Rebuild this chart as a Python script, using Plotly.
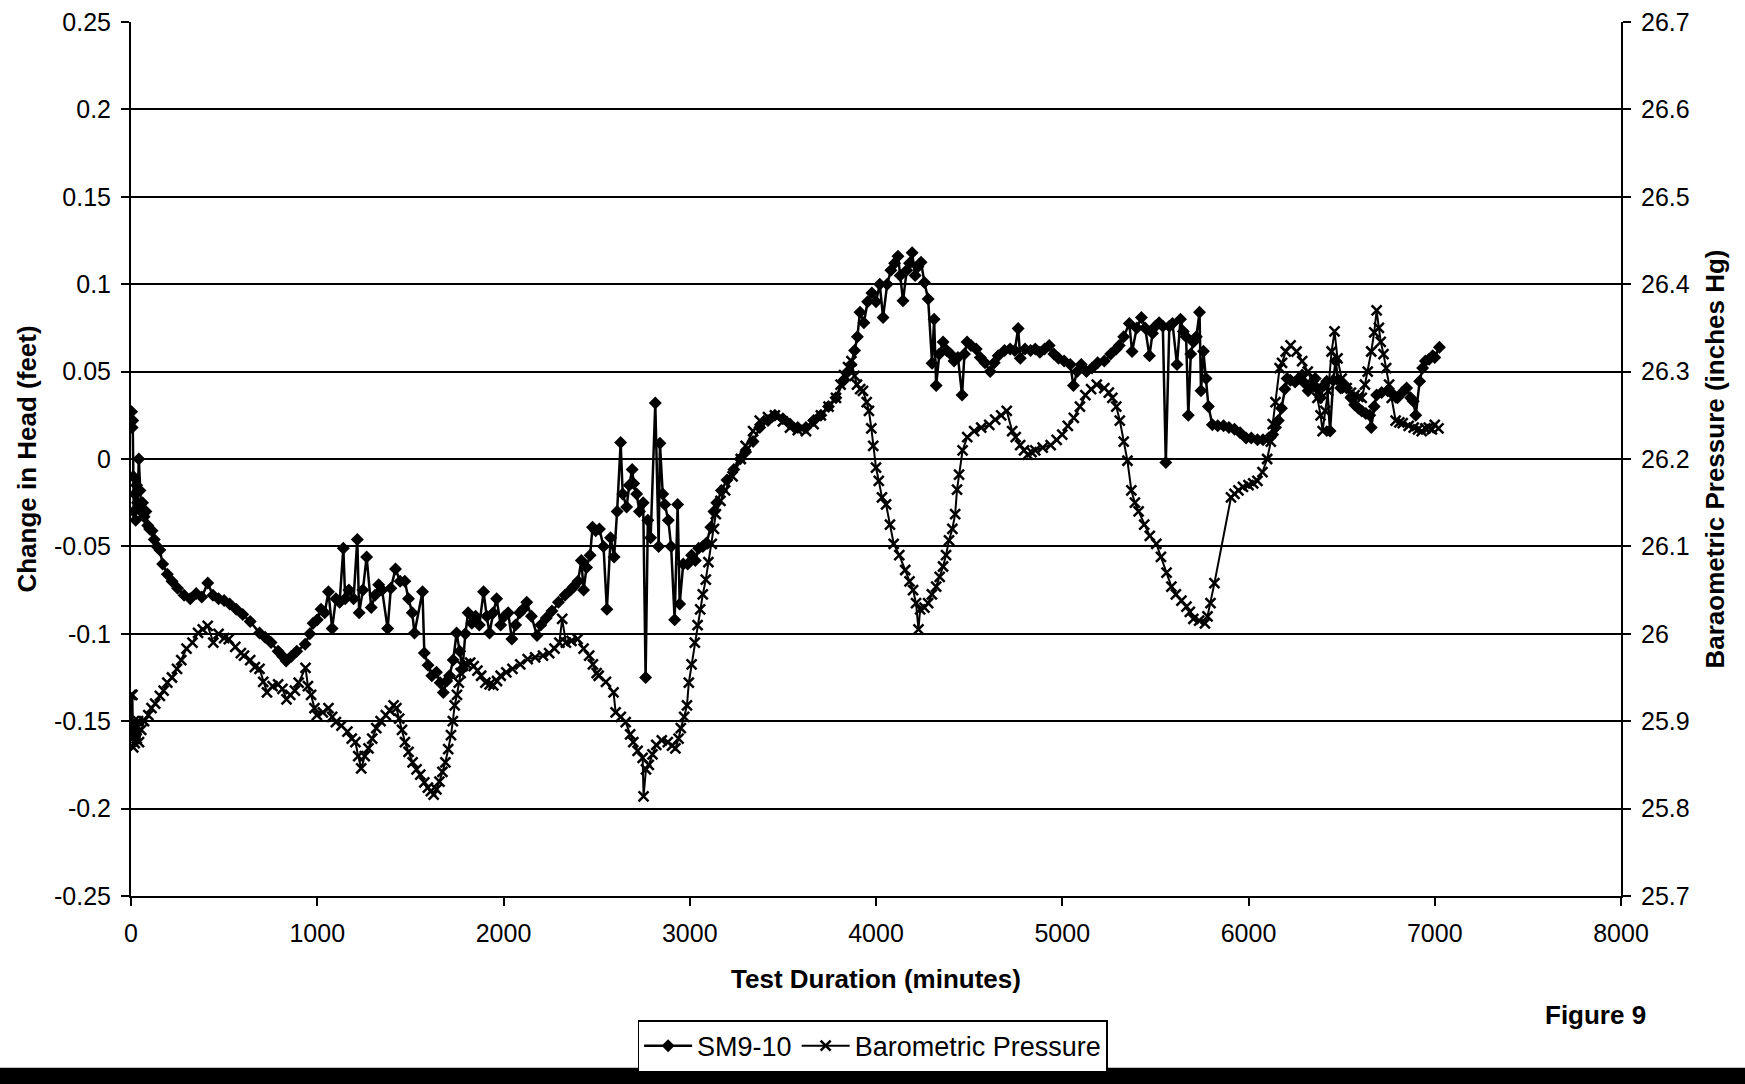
import plotly.graph_objects as go

# ---------------- data ----------------
sm_t = [3, 6, 9, 12, 15, 20, 25, 30, 35, 42, 48, 55, 62, 70, 80, 90, 100, 113, 125, 140,
        155, 170, 195, 220, 250, 285, 318, 350, 380, 412, 440, 470, 500, 530, 565, 600, 640, 690, 720, 752,
        790, 815, 833, 860, 890, 935, 960, 978, 1000, 1020, 1040, 1060, 1080, 1100, 1120, 1140, 1150, 1170, 1195, 1215,
        1225, 1245, 1265, 1290, 1310, 1330, 1348, 1378, 1395, 1420, 1445, 1470, 1490, 1510, 1522, 1565, 1575, 1595, 1615, 1640,
        1660, 1677, 1695, 1710, 1730, 1748, 1765, 1780, 1795, 1810, 1830, 1850, 1870, 1893, 1910, 1925, 1945, 1963, 1985, 2005,
        2025, 2045, 2065, 2087, 2105, 2125, 2150, 2180, 2200, 2230, 2260, 2295, 2330, 2360, 2377, 2400, 2418, 2430, 2446, 2465,
        2478, 2495, 2515, 2537, 2555, 2575, 2594, 2610, 2629, 2640, 2661, 2675, 2691, 2699, 2715, 2730, 2750, 2763, 2775, 2790,
        2815, 2833, 2840, 2855, 2866, 2885, 2900, 2919, 2935, 2946, 2965, 2989, 3010, 3030, 3048, 3070, 3090, 3113, 3130, 3145,
        3170, 3200, 3237, 3270, 3300, 3340, 3376, 3420, 3457, 3500, 3538, 3580, 3624, 3665, 3704, 3745, 3785, 3828, 3850, 3866,
        3885, 3900, 3914, 3935, 3955, 3978, 4000, 4020, 4038, 4060, 4080, 4100, 4118, 4130, 4145, 4165, 4180, 4194, 4210, 4225,
        4242, 4260, 4280, 4301, 4312, 4323, 4340, 4360, 4380, 4400, 4419, 4440, 4462, 4475, 4489, 4510, 4538, 4560, 4585, 4613,
        4635, 4656, 4690, 4720, 4745, 4763, 4775, 4800, 4830, 4855, 4880, 4905, 4930, 4955, 4980, 5010, 5043, 5060, 5080, 5102,
        5130, 5160, 5190, 5226, 5260, 5290, 5306, 5330, 5360, 5375, 5400, 5425, 5445, 5468, 5485, 5500, 5520, 5540, 5556, 5575,
        5592, 5616, 5635, 5650, 5665, 5677, 5690, 5704, 5720, 5737, 5745, 5758, 5772, 5785, 5806, 5835, 5866, 5895, 5925, 5955,
        5987, 6015, 6048, 6078, 6108, 6130, 6145, 6160, 6177, 6195, 6207, 6225, 6250, 6270, 6288, 6305, 6320, 6340, 6358, 6372,
        6387, 6405, 6420, 6438, 6455, 6468, 6480, 6495, 6510, 6527, 6550, 6570, 6590, 6608, 6630, 6651, 6659, 6675, 6688, 6715,
        6747, 6775, 6800, 6825, 6849, 6870, 6885, 6898, 6919, 6935, 6950, 6970, 6989, 7000, 7025]
sm_v = [0.027, 0.018, 0.022, -0.010, -0.030, -0.020, -0.035, -0.015, -0.025, 0.000, -0.018, -0.030, -0.025, -0.033, -0.030, -0.038, -0.040, -0.041, -0.046, -0.050,
        -0.052, -0.060, -0.066, -0.070, -0.074, -0.078, -0.080, -0.077, -0.079, -0.071, -0.078, -0.080, -0.081, -0.083, -0.086, -0.089, -0.093, -0.0996, -0.102, -0.105,
        -0.110, -0.113, -0.1155, -0.113, -0.110, -0.106, -0.100, -0.094, -0.092, -0.086, -0.088, -0.076, -0.097, -0.080, -0.082, -0.051, -0.080, -0.075, -0.080, -0.046,
        -0.088, -0.075, -0.056, -0.085, -0.078, -0.072, -0.075, -0.097, -0.074, -0.063, -0.070, -0.070, -0.080, -0.088, -0.0996, -0.076, -0.111, -0.118, -0.124, -0.122,
        -0.128, -0.1336, -0.127, -0.124, -0.115, -0.0996, -0.110, -0.120, -0.100, -0.088, -0.094, -0.090, -0.095, -0.076, -0.090, -0.0996, -0.088, -0.080, -0.095, -0.090,
        -0.088, -0.103, -0.095, -0.088, -0.086, -0.082, -0.090, -0.101, -0.095, -0.091, -0.087, -0.082, -0.078, -0.075, -0.073, -0.070, -0.058, -0.075, -0.062, -0.055,
        -0.039, -0.041, -0.040, -0.050, -0.086, -0.045, -0.056, -0.030, 0.0094, -0.020, -0.0275, -0.015, -0.006, -0.014, -0.020, -0.030, -0.025, -0.125, -0.035, -0.045,
        0.032, -0.050, 0.009, -0.020, -0.026, -0.035, -0.050, -0.092, -0.026, -0.083, -0.060, -0.060, -0.055, -0.058, -0.051, -0.050, -0.048, -0.039, -0.030, -0.025,
        -0.018, -0.012, -0.006, 0.000, 0.004, 0.010, 0.018, 0.022, 0.025, 0.023, 0.020, 0.018, 0.018, 0.022, 0.025, 0.030, 0.035, 0.045, 0.050, 0.054,
        0.062, 0.070, 0.084, 0.078, 0.090, 0.095, 0.090, 0.100, 0.081, 0.100, 0.108, 0.112, 0.116, 0.105, 0.0905, 0.108, 0.112, 0.118, 0.105, 0.110,
        0.1125, 0.101, 0.0916, 0.0548, 0.080, 0.042, 0.060, 0.067, 0.062, 0.060, 0.056, 0.058, 0.0366, 0.060, 0.067, 0.065, 0.063, 0.058, 0.055, 0.050,
        0.055, 0.059, 0.062, 0.063, 0.062, 0.0746, 0.0576, 0.063, 0.062, 0.063, 0.061, 0.063, 0.065, 0.060, 0.0576, 0.056, 0.054, 0.042, 0.050, 0.054,
        0.050, 0.052, 0.055, 0.056, 0.060, 0.063, 0.065, 0.070, 0.0775, 0.0615, 0.075, 0.081, 0.075, 0.059, 0.072, 0.076, 0.078, 0.076, -0.002, 0.076,
        0.0775, 0.054, 0.080, 0.073, 0.070, 0.025, 0.060, 0.067, 0.070, 0.084, 0.039, 0.0616, 0.046, 0.030, 0.0196, 0.019, 0.019, 0.018, 0.017, 0.015,
        0.012, 0.012, 0.011, 0.011, 0.012, 0.014, 0.018, 0.022, 0.029, 0.040, 0.046, 0.045, 0.044, 0.046, 0.048, 0.043, 0.039, 0.042, 0.046, 0.040,
        0.035, 0.042, 0.0445, 0.016, 0.045, 0.056, 0.045, 0.0406, 0.043, 0.0406, 0.035, 0.031, 0.029, 0.0275, 0.026, 0.025, 0.018, 0.030, 0.0366, 0.038,
        0.039, 0.037, 0.035, 0.038, 0.0406, 0.035, 0.033, 0.025, 0.0445, 0.052, 0.056, 0.057, 0.059, 0.058, 0.064]

baro_t = [0, 4, 8, 12, 16, 20, 25, 30, 38, 43, 55, 70, 93, 110, 130, 155, 175, 195, 220, 247,
          270, 298, 330, 360, 385, 412, 442, 470, 500, 525, 560, 590, 607, 640, 665, 690, 710, 730, 760, 790,
          813, 835, 855, 880, 900, 937, 950, 967, 985, 998, 1030, 1060, 1080, 1100, 1130, 1162, 1185, 1205, 1220, 1236,
          1255, 1275, 1295, 1317, 1340, 1368, 1390, 1410, 1425, 1440, 1455, 1471, 1490, 1512, 1533, 1553, 1575, 1594, 1610, 1625,
          1640, 1656, 1672, 1688, 1703, 1718, 1728, 1738, 1750, 1760, 1770, 1780, 1800, 1821, 1840, 1860, 1880, 1903, 1925, 1945,
          1965, 1985, 2015, 2048, 2090, 2130, 2170, 2212, 2245, 2274, 2300, 2315, 2335, 2365, 2398, 2430, 2460, 2480, 2500, 2511,
          2550, 2591, 2602, 2630, 2656, 2680, 2697, 2720, 2747, 2752, 2765, 2780, 2800, 2820, 2850, 2882, 2905, 2923, 2940, 2952,
          2970, 2985, 2995, 3010, 3027, 3042, 3056, 3070, 3086, 3100, 3118, 3130, 3140, 3165, 3190, 3230, 3274, 3300, 3340, 3376,
          3420, 3457, 3500, 3538, 3580, 3624, 3665, 3704, 3745, 3785, 3810, 3828, 3850, 3868, 3885, 3898, 3915, 3930, 3950, 3962,
          3975, 3985, 4000, 4015, 4032, 4054, 4075, 4095, 4125, 4157, 4180, 4199, 4215, 4228, 4237, 4260, 4280, 4300, 4323, 4342,
          4360, 4376, 4392, 4410, 4425, 4435, 4446, 4465, 4490, 4527, 4565, 4608, 4640, 4672, 4702, 4731, 4750, 4774, 4795, 4815,
          4835, 4855, 4895, 4938, 4970, 5000, 5030, 5062, 5095, 5124, 5155, 5185, 5226, 5250, 5269, 5290, 5309, 5330, 5350, 5371,
          5390, 5410, 5440, 5470, 5505, 5530, 5560, 5586, 5610, 5640, 5667, 5685, 5704, 5735, 5766, 5780, 5796, 5817, 5906, 5925,
          5946, 5970, 6000, 6025, 6048, 6075, 6100, 6120, 6130, 6145, 6167, 6180, 6200, 6226, 6258, 6288, 6318, 6348, 6370, 6387,
          6398, 6412, 6428, 6446, 6462, 6478, 6500, 6527, 6550, 6570, 6590, 6608, 6625, 6640, 6659, 6675, 6688, 6700, 6710, 6725,
          6739, 6755, 6769, 6790, 6810, 6828, 6860, 6887, 6910, 6930, 6950, 6968, 6985, 7000, 7020]
baro_v = [25.93, 25.88, 25.93, 25.87, 25.90, 25.875, 25.895, 25.88, 25.90, 25.876, 25.89, 25.90, 25.907, 25.915, 25.92, 25.929, 25.935, 25.944, 25.95, 25.96,
          25.97, 25.983, 25.99, 26.001, 26.005, 26.009, 25.99, 26.00, 25.995, 25.994, 25.985, 25.978, 25.975, 25.97, 25.962, 25.96, 25.945, 25.933, 25.94, 25.942,
          25.937, 25.925, 25.93, 25.935, 25.944, 25.961, 25.94, 25.93, 25.915, 25.907, 25.91, 25.915, 25.905, 25.899, 25.895, 25.888, 25.88, 25.876, 25.86, 25.846,
          25.86, 25.869, 25.88, 25.892, 25.90, 25.907, 25.912, 25.918, 25.915, 25.903, 25.89, 25.876, 25.865, 25.853, 25.845, 25.839, 25.83, 25.824, 25.82, 25.816,
          25.822, 25.831, 25.842, 25.853, 25.868, 25.884, 25.90, 25.918, 25.93, 25.944, 25.955, 25.963, 25.966, 25.967, 25.963, 25.958, 25.952, 25.944, 25.942, 25.941,
          25.946, 25.952, 25.956, 25.96, 25.965, 25.971, 25.973, 25.975, 25.978, 25.983, 25.99, 26.017, 25.99, 25.992, 25.994, 25.983, 25.975, 25.965, 25.955, 25.952,
          25.945, 25.933, 25.91, 25.905, 25.899, 25.885, 25.876, 25.866, 25.858, 25.814, 25.845, 25.85, 25.862, 25.873, 25.878, 25.876, 25.872, 25.869, 25.88, 25.892,
          25.905, 25.918, 25.944, 25.965, 25.99, 26.01, 26.028, 26.045, 26.062, 26.082, 26.103, 26.12, 26.137, 26.152, 26.164, 26.18, 26.20, 26.215, 26.232, 26.244,
          26.248, 26.25, 26.243, 26.236, 26.233, 26.232, 26.24, 26.25, 26.26, 26.27, 26.285, 26.296, 26.305, 26.312, 26.295, 26.285, 26.28, 26.278, 26.265, 26.255,
          26.235, 26.215, 26.19, 26.175, 26.156, 26.148, 26.125, 26.103, 26.09, 26.073, 26.06, 26.05, 26.035, 26.005, 26.028, 26.03, 26.035, 26.045, 26.054, 26.065,
          26.077, 26.09, 26.107, 26.12, 26.137, 26.165, 26.182, 26.21, 26.225, 26.232, 26.236, 26.239, 26.245, 26.25, 26.255, 26.232, 26.225, 26.216, 26.21, 26.205,
          26.208, 26.21, 26.213, 26.216, 26.222, 26.228, 26.238, 26.247, 26.26, 26.273, 26.28, 26.285, 26.281, 26.276, 26.27, 26.26, 26.244, 26.22, 26.198, 26.164,
          26.15, 26.14, 26.125, 26.112, 26.103, 26.088, 26.07, 26.054, 26.045, 26.038, 26.031, 26.025, 26.017, 26.015, 26.012, 26.02, 26.035, 26.058, 26.156, 26.16,
          26.164, 26.168, 26.17, 26.172, 26.175, 26.185, 26.20, 26.22, 26.24, 26.265, 26.304, 26.31, 26.323, 26.33, 26.323, 26.312, 26.30, 26.285, 26.27, 26.25,
          26.232, 26.255, 26.278, 26.323, 26.346, 26.315, 26.292, 26.281, 26.276, 26.273, 26.271, 26.27, 26.285, 26.30, 26.323, 26.345, 26.37, 26.35, 26.334, 26.32,
          26.304, 26.285, 26.27, 26.244, 26.242, 26.241, 26.238, 26.236, 26.234, 26.232, 26.235, 26.236, 26.234, 26.239, 26.235]

left_ticks = [0.25, 0.2, 0.15, 0.1, 0.05, 0, -0.05, -0.1, -0.15, -0.2, -0.25]
left_tick_text = ["0.25", "0.2", "0.15", "0.1", "0.05", "0", "-0.05", "-0.1", "-0.15", "-0.2", "-0.25"]
right_ticks = [26.7, 26.6, 26.5, 26.4, 26.3, 26.2, 26.1, 26.0, 25.9, 25.8, 25.7]
right_tick_text = ["26.7", "26.6", "26.5", "26.4", "26.3", "26.2", "26.1", "26", "25.9", "25.8", "25.7"]
x_ticks = [0, 1000, 2000, 3000, 4000, 5000, 6000, 7000, 8000]

FONT = "Arial, 'Liberation Sans', sans-serif"

fig = go.Figure()
fig.add_trace(go.Scatter(
    x=sm_t, y=sm_v, name="SM9-10", mode="lines+markers",
    line=dict(color="black", width=2.5),
    marker=dict(symbol="diamond", size=10, color="black"),
    yaxis="y"))
fig.add_trace(go.Scatter(
    x=baro_t, y=baro_v, name="Barometric Pressure", mode="lines+markers",
    line=dict(color="black", width=2),
    marker=dict(symbol="x-thin", size=10, color="black", line=dict(color="black", width=2.5)),
    yaxis="y2"))

fig.update_layout(
    width=1745, height=1084, autosize=False,
    margin=dict(l=131, r=124, t=22, b=164),
    paper_bgcolor="white", plot_bgcolor="white",
    font=dict(family=FONT, size=25, color="black"),
    showlegend=True,
    legend=dict(orientation="h", x=0.34, xanchor="left", y=-0.142, yanchor="top",
                bordercolor="black", borderwidth=1.5, bgcolor="white",
                font=dict(size=27), itemwidth=48, tracegroupgap=0),
    xaxis=dict(range=[0, 8000], tickvals=x_ticks, showgrid=False, zeroline=False,
               showline=True, linecolor="black", linewidth=2, automargin=False,
               ticks="outside", ticklen=8, tickwidth=1.5, tickcolor="black",
               ticklabelstandoff=6,
               title=dict(text="<b>Test Duration (minutes)</b>", font=dict(size=26), standoff=24)),
    yaxis=dict(range=[-0.25, 0.25], tickvals=left_ticks, ticktext=left_tick_text,
               showgrid=True, gridcolor="black", gridwidth=1.5, zeroline=False,
               showline=True, linecolor="black", linewidth=2, automargin=False,
               ticks="outside", ticklen=8, tickwidth=1.5, tickcolor="black",
               ticklabelstandoff=5,
               title=dict(text="<b>Change in Head (feet)</b>", font=dict(size=26), standoff=10)),
    yaxis2=dict(range=[25.7, 26.7], tickvals=right_ticks, ticktext=right_tick_text,
                overlaying="y", side="right", showgrid=False, zeroline=False,
                showline=True, linecolor="black", linewidth=2, automargin=False,
                ticks="outside", ticklen=8, tickwidth=1.5, tickcolor="black",
                ticklabelstandoff=5,
                title=dict(text="<b>Baraometric Pressure (inches Hg)</b>", font=dict(size=26), standoff=17)),
    annotations=[dict(text="<b>Figure 9</b>", xref="paper", yref="paper",
                      x=0.983, y=-0.136, xanchor="center", yanchor="middle",
                      showarrow=False, font=dict(size=26))],
    shapes=[dict(type="rect", xref="paper", yref="paper",
                 x0=-0.1, x1=1.1, y0=-0.25, y1=-0.1964,
                 fillcolor="black", line=dict(width=0), layer="above")],
)

fig.write_html(
    "out.html",
    config={"displayModeBar": False, "responsive": False},
    post_script=("document.documentElement.style.overflow='hidden';"
                 "document.body.style.margin='0px';"
                 "document.body.style.overflow='hidden';"),
)
